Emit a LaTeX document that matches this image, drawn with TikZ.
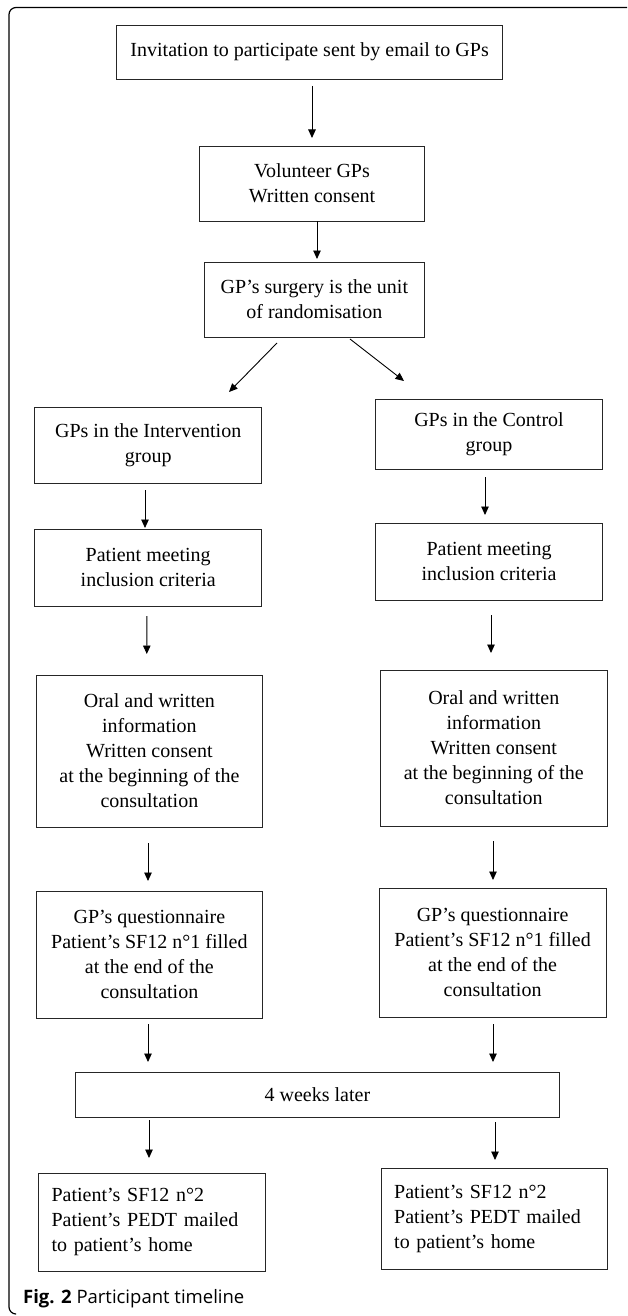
\documentclass[tikz,border=0pt]{standalone}
\usepackage{fontspec}
\setmainfont{Liberation Serif}
\newfontfamily\capfont{Open Sans}
\usetikzlibrary{arrows.meta,calc}
\begin{document}
\begin{tikzpicture}[x=1pt,y=-1pt,
 box/.style={draw=black!85, line width=0.9pt, inner sep=0pt, outer sep=0pt, align=center, font=\fontsize{20}{25}\selectfont},
 lbox/.style={box, align=left, inner xsep=13.2pt, text width=200.4pt},
 arr/.style={draw=black, line width=0.9pt, -{Triangle[length=8.5pt,width=7.5pt]}},
 frame/.style={draw=black, line width=1.2pt, rounded corners=7pt}]
\useasboundingbox (0,0) rectangle (627,1316);
\draw[frame] (627,7.5) -- (9,7.5) -- (9,1314) -- (15.5,1314);

\node[box, minimum width=386.4pt, minimum height=54pt] (b1) at (309.6,52) {Invitation to participate sent by email to GPs};
\node[box, minimum width=225.6pt, minimum height=75pt] (b2) at (312,183.5) {Volunteer GPs\\Written consent};
\node[box, minimum width=220.8pt, minimum height=75pt] (b3) at (314.4,299.5) {GP’s surgery is the unit\\of randomisation};
\node[box, minimum width=226.8pt, minimum height=76pt] (l1) at (148.2,445) {GPs in the Intervention\\group};
\node[box, minimum width=226.8pt, minimum height=70pt] (r1) at (489,434) {GPs in the Control\\group};
\node[box, minimum width=226.8pt, minimum height=77pt] (l2) at (148.2,567.5) {Patient meeting\\inclusion criteria};
\node[box, minimum width=226.8pt, minimum height=77pt] (r2) at (489,561.5) {Patient meeting\\inclusion criteria};
\node[box, minimum width=226.8pt, minimum height=152pt] (l3) at (149.4,751) {Oral and written\\information\\Written consent\\at the beginning of the\\consultation};
\node[box, minimum width=226.8pt, minimum height=156pt] (r3) at (493.8,748) {Oral and written\\information\\Written consent\\at the beginning of the\\consultation};
\node[box, minimum width=226.8pt, minimum height=127pt] (l4) at (149.4,954.5) {GP’s questionnaire\\Patient’s SF12 n°1 filled\\at the end of the\\consultation};
\node[box, minimum width=226.8pt, minimum height=129pt] (r4) at (492.6,952.5) {GP’s questionnaire\\Patient’s SF12 n°1 filled\\at the end of the\\consultation};
\node[box, minimum width=483.6pt, minimum height=45pt] (w) at (317.4,1094.5) {4 weeks later};
\node[lbox, minimum height=98pt] (l5) at (151.8,1222) {Patient’s SF12 n°2\\Patient’s PEDT mailed\\to patient’s home};
\node[lbox, minimum height=101pt] (r5) at (494.4,1218.5) {Patient’s SF12 n°2\\Patient’s PEDT mailed\\to patient’s home};

\draw[arr] ($(b1.south)+(2.4,7)$) -- ($(b2.north)+(0,-8)$);
\draw[arr] ($(b2.south)+(5,0)$) -- ($(b3.north)+(2.6,-3)$);
\draw[arr] ($(b3.south)+(-37.4,6)$) -- ($(l1.north)+(80.8,-15)$);
\draw[arr] ($(b3.south)+(35.6,2)$) -- ($(r1.north)+(-85,-18)$);
\draw[arr] ($(l1.south)+(-3.2,7)$) -- ($(l2.north)+(-3.2,-1)$);
\draw[arr] ($(r1.south)+(-4,8)$) -- ($(r2.north)+(-4,-8)$);
\draw[arr] ($(l2.south)+(-1.4,10)$) -- ($(l3.north)+(-2.6,-21)$);
\draw[arr] ($(r2.south)+(2,15)$) -- ($(r3.north)+(-2.8,-17)$);
\draw[arr] ($(l3.south)+(-1.4,16)$) -- ($(l4.north)+(-1.4,-10)$);
\draw[arr] ($(r3.south)+(-0.8,15)$) -- ($(r4.north)+(0.4,-8)$);
\draw[arr] ($(l4.south)+(-1.4,6)$) -- ($(l4.south |- w.north)+(-1.4,-10)$);
\draw[arr] ($(r4.south)+(0.4,7)$) -- ($(r4.south |- w.north)+(0.4,-10)$);
\draw[arr] ($(l5.north |- w.south)+(-2.8,3)$) -- ($(l5.north)+(-2.8,-15)$);
\draw[arr] ($(r5.north |- w.south)+(0.6,5)$) -- ($(r5.north)+(0.6,-8)$);

\node[anchor=base west, inner sep=0pt, font=\capfont\fontsize{18.5}{22}\selectfont] (cap) at (23,1303) {\textbf{Fig. 2} Participant timeline};
\end{tikzpicture}
\end{document}
